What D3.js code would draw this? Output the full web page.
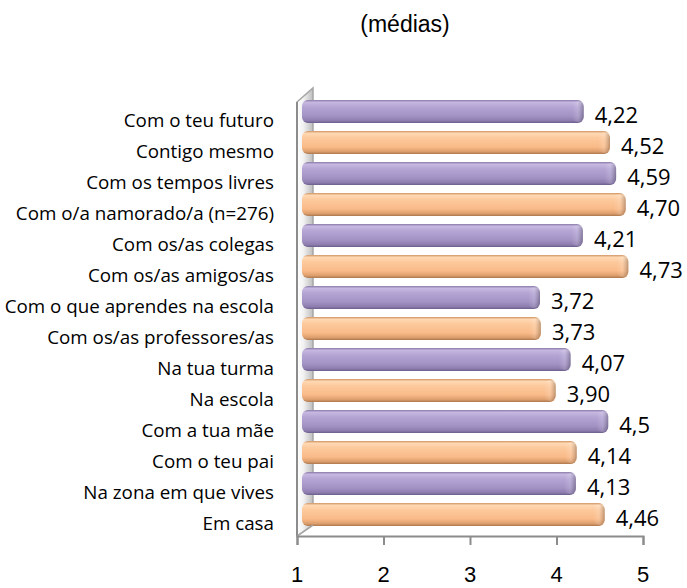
<html>
<head>
    <meta charset="utf-8">
    <title>(médias)</title>
</head>
<style>
    body { margin: 0; background: #fff; }
    .catText {
        font-family: "Open Sans", sans-serif;
        font-size: 18.8px;
        text-anchor: end;
        fill: #000;
    }
    .valText {
        font-family: "Open Sans", sans-serif;
        font-size: 22px;
        fill: #000;
    }
    .tickText {
        font-family: "Liberation Sans", Arial, sans-serif;
        font-size: 22px;
        text-anchor: middle;
        fill: #000;
    }
</style>
<body>
<script src="https://cdn.jsdelivr.net/npm/d3@7"></script>
<script>
    // dados (de cima para baixo)
    var categories = ["Com o teu futuro", "Contigo mesmo", "Com os tempos livres",
        "Com o/a namorado/a (n=276)", "Com os/as colegas", "Com os/as amigos/as",
        "Com o que aprendes na escola", "Com os/as professores/as", "Na tua turma",
        "Na escola", "Com a tua mãe", "Com o teu pai", "Na zona em que vives", "Em casa"];
    var values = [4.22, 4.52, 4.59, 4.70, 4.21, 4.73, 3.72, 3.73, 4.07, 3.90, 4.5, 4.14, 4.13, 4.46];
    var valueLabels = ["4,22", "4,52", "4,59", "4,70", "4,21", "4,73", "3,72", "3,73", "4,07", "3,90", "4,5", "4,14", "4,13", "4,46"];
    var ticks = [1, 2, 3, 4, 5];

    var width = 687;
    var height = 588;

    var svg = d3.select("body").append("svg")
            .attr("width", width)
            .attr("height", height);

    // escala do eixo e escala das barras (plano da frente, ligeiramente deslocado pela perspectiva 3D)
    var x = d3.scaleLinear().domain([1, 5]).range([297, 643]);
    var xBar = d3.scaleLinear().domain([1, 5]).range([302, 652]);
    var y = d3.scaleBand().domain(categories).range([96, 530])
            .paddingInner(0.26).paddingOuter(0.13);

    var defs = svg.append("defs");

    function vGrad(id, stops) {
        var g = defs.append("linearGradient").attr("id", id)
                .attr("x1", 0).attr("y1", 0).attr("x2", 0).attr("y2", 1);
        stops.forEach(function (s) {
            g.append("stop").attr("offset", s[0]).attr("stop-color", s[1]);
        });
    }
    vGrad("gPurple", [[0, "#8a7baa"], [0.1, "#c6b8e0"], [0.3, "#b4a5d5"], [0.7, "#a292c4"], [0.9, "#8d7dae"], [1, "#6c5e8c"]]);
    vGrad("gOrange", [[0, "#d09664"], [0.1, "#ffd8b4"], [0.3, "#fdc99c"], [0.7, "#f9ba88"], [0.9, "#dc9d6c"], [1, "#ac774e"]]);

    var wallGrad = defs.append("linearGradient").attr("id", "gWall")
            .attr("x1", 0).attr("y1", 0).attr("x2", 1).attr("y2", 0);
    wallGrad.append("stop").attr("offset", 0).attr("stop-color", "#ffffff");
    wallGrad.append("stop").attr("offset", 0.4).attr("stop-color", "#f2f2f2");
    wallGrad.append("stop").attr("offset", 1).attr("stop-color", "#bdbdbd");

    var capGrad = defs.append("linearGradient").attr("id", "gCap")
            .attr("x1", 0).attr("y1", 0).attr("x2", 1).attr("y2", 0);
    capGrad.append("stop").attr("offset", 0).attr("stop-color", "#fff").attr("stop-opacity", 0);
    capGrad.append("stop").attr("offset", 0.5).attr("stop-color", "#fff").attr("stop-opacity", 0.15);
    capGrad.append("stop").attr("offset", 1).attr("stop-color", "#000").attr("stop-opacity", 0.25);

    // titulo
    svg.append("text")
            .attr("x", 405)
            .attr("y", 32)
            .attr("text-anchor", "middle")
            .style("font-family", "'Liberation Sans', Arial, sans-serif")
            .style("font-size", "23px")
            .text("(médias)");

    // parede lateral 3D
    var wallTop = 102, depth = 16, floorY = 536;
    svg.append("path")
            .attr("d", "M" + x(1) + "," + wallTop + " L" + (x(1) + depth) + "," + (wallTop - 14) +
                    " L" + (x(1) + depth) + "," + (floorY - 11) + " L" + x(1) + "," + floorY + " Z")
            .attr("fill", "url(#gWall)")
            .attr("stroke", "#a6a6a6")
            .attr("stroke-width", 1.5);
    svg.append("line")
            .attr("x1", x(1)).attr("x2", x(1))
            .attr("y1", wallTop).attr("y2", floorY)
            .attr("stroke", "#8c8c8c").attr("stroke-width", 2);

    // barras
    var bars = svg.selectAll(".bar")
            .data(values)
            .enter()
            .append("g")
            .attr("class", "bar");

    bars.append("rect")
            .attr("x", xBar(1))
            .attr("y", function (d, i) { return y(categories[i]); })
            .attr("width", function (d) { return xBar(d) - xBar(1); })
            .attr("height", y.bandwidth())
            .attr("rx", 6)
            .attr("fill", function (d, i) { return i % 2 == 0 ? "url(#gPurple)" : "url(#gOrange)"; });

    // ponta arredondada da barra
    bars.append("rect")
            .attr("x", function (d) { return xBar(d) - 12; })
            .attr("y", function (d, i) { return y(categories[i]) + 1; })
            .attr("width", 12)
            .attr("height", y.bandwidth() - 2)
            .attr("rx", 6)
            .attr("fill", "url(#gCap)");

    // valores
    svg.selectAll(".valText")
            .data(values)
            .enter()
            .append("text")
            .attr("class", "valText")
            .attr("x", function (d) { return xBar(d) + 11; })
            .attr("y", function (d, i) { return y(categories[i]) + y.bandwidth() / 2 + 11; })
            .text(function (d, i) { return valueLabels[i]; });

    // categorias
    svg.selectAll(".catText")
            .data(categories)
            .enter()
            .append("text")
            .attr("class", "catText")
            .attr("x", 274)
            .attr("y", function (d) { return y(d) + y.bandwidth() / 2 + 15; })
            .text(function (d) { return d; });

    // chao + eixo
    svg.append("line")
            .attr("x1", x(1)).attr("y1", floorY)
            .attr("x2", x(1) + depth).attr("y2", floorY - 11)
            .attr("stroke", "#a6a6a6").attr("stroke-width", 1.5);

    var axis = d3.axisBottom(x).tickValues(ticks).tickSize(9).tickFormat("");
    var gAxis = svg.append("g")
            .attr("transform", "translate(0," + floorY + ")")
            .call(axis);
    gAxis.select(".domain").attr("stroke", "#8c8c8c").attr("stroke-width", 2);
    gAxis.selectAll(".tick line").attr("stroke", "#8c8c8c").attr("stroke-width", 2);

    svg.selectAll(".tickText")
            .data(ticks)
            .enter()
            .append("text")
            .attr("class", "tickText")
            .attr("x", function (d) { return x(d); })
            .attr("y", 582)
            .text(function (d) { return d; });
</script>

</body>
</html>
